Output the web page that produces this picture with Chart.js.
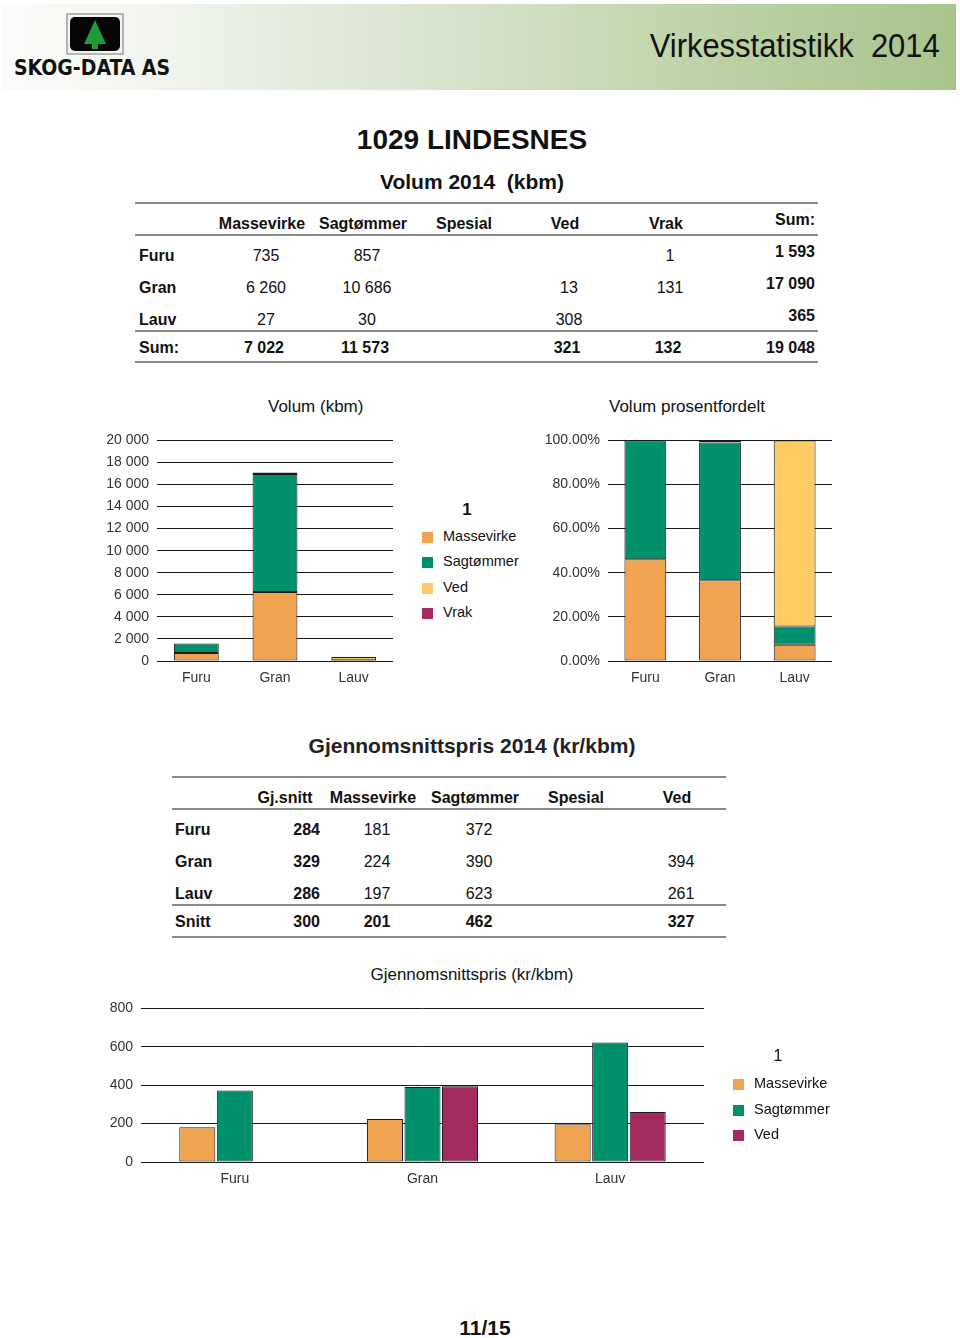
<!DOCTYPE html>
<html>
<head>
<meta charset="utf-8">
<script src="https://cdn.jsdelivr.net/npm/chart.js@4.4.1/dist/chart.umd.min.js"></script>
<style>
  body { margin: 0; width: 960px; height: 1338px; position: relative; background: #fff;
         font-family: "Liberation Sans", Arial, sans-serif; color: #111; overflow: hidden; }
  .abs { position: absolute; white-space: nowrap; }
  .band { position: absolute; left: 2px; top: 4px; width: 954px; height: 86px;
          background: linear-gradient(to right, #fbfcfa 0%, #f3f6f0 14%, #d9e4cf 45%, #bcd2a6 75%, #a8c48c 100%); }
  .hline { position: absolute; height: 2px; background: #8a8a8a; }
  .legend-sq { position: absolute; width: 11px; height: 11px; }
  canvas { position: absolute; }
</style>
</head>
<body>
<div class="band"></div>
<svg class="abs" style="left:66px;top:13px" width="58" height="42">
  <rect x="1" y="1" width="56" height="40" fill="#f4f4f4" stroke="#777" stroke-width="1"/>
  <rect x="4" y="4" width="50" height="34" rx="5" fill="#060606"/>
  <polygon points="29,7 40,31 18,31" fill="#1d9b3a"/>
  <rect x="26" y="31" width="6" height="5" fill="#1d9b3a"/>
</svg>
<div class="abs" style="left:14px;top:56px;font:bold 21px 'DejaVu Sans Condensed','Liberation Sans',Arial;color:#111">SKOG-DATA AS</div>
<div class="abs" style="right:20px;top:26px;font:34px 'Liberation Sans',Arial;color:#111;transform:scaleX(0.91);transform-origin:right center">Virkesstatistikk&nbsp; 2014</div>

<div class="abs" style="left:0;width:944px;text-align:center;top:124px;font:bold 28px 'Liberation Sans',Arial">1029 LINDESNES</div>
<div class="abs" style="left:0;width:944px;text-align:center;top:170px;font:bold 21px 'Liberation Sans',Arial">Volum 2014&nbsp; (kbm)</div>

<div id="tables"></div>

<div class="abs" style="left:268px;top:397px;font:17px 'Liberation Sans',Arial;color:#111">Volum (kbm)</div>
<div class="abs" style="left:609px;top:397px;font:17px 'Liberation Sans',Arial;color:#111">Volum prosentfordelt</div>
<canvas id="c1" width="300" height="267" style="left:100px;top:424px"></canvas>
<canvas id="c2" width="300" height="267" style="left:540px;top:424px"></canvas>
<div id="legend1"></div>

<div class="abs" style="left:0;width:944px;text-align:center;top:734px;font:bold 21px 'Liberation Sans',Arial;color:#222">Gjennomsnittspris 2014 (kr/kbm)</div>
<div class="abs" style="left:0;width:944px;text-align:center;top:965px;font:17px 'Liberation Sans',Arial;color:#111">Gjennomsnittspris (kr/kbm)</div>
<canvas id="c3" width="610" height="200" style="left:100px;top:992px"></canvas>
<div id="legend3"></div>

<div class="abs" style="left:0;width:970px;text-align:center;top:1316px;font:bold 21px 'Liberation Sans',Arial">11/15</div>

<script>
// ---- data ----
const species = ['Furu', 'Gran', 'Lauv'];
const volHeaders = ['Massevirke', 'Sagtømmer', 'Spesial', 'Ved', 'Vrak'];
const volMassevirke = [735, 6260, 27];
const volSagtommer = [857, 10686, 30];
const volSpesial = [null, null, null];
const volVed = [null, 13, 308];
const volVrak = [1, 131, null];
const volRowSum = [1593, 17090, 365];
const volColSum = [7022, 11573, null, 321, 132];
const volTotal = 19048;

// percentage split per species
const pctMassevirke = [46.1, 36.6, 7.4];
const pctSagtommer = [53.8, 62.5, 8.2];
const pctVed = [0, 0.1, 84.4];
const pctVrak = [0.1, 0.8, 0];

const priceHeaders = ['Gj.snitt', 'Massevirke', 'Sagtømmer', 'Spesial', 'Ved'];
const priceSnitt = [284, 329, 286];
const priceMassevirke = [181, 224, 197];
const priceSagtommer = [372, 390, 623];
const priceSpesial = [null, null, null];
const priceVed = [null, 394, 261];
const priceColSnitt = [300, 201, 462, null, 327];

const volTicks = [0, 2000, 4000, 6000, 8000, 10000, 12000, 14000, 16000, 18000, 20000];
const pctTicks = [0, 20, 40, 60, 80, 100];
const priceTicks = [0, 200, 400, 600, 800];

const colors = { Massevirke: '#F0A351', 'Sagtømmer': '#00906B', Ved: '#FECB64', Vrak: '#A32B5F' };
// the price chart paints Ved in the purple tone
const priceColors = { Massevirke: '#F0A351', 'Sagtømmer': '#00906B', Ved: '#A32B5F' };

// ---- helpers ----
function fmt(n) {
    if (n === null || n === undefined) return '';
    return String(n).replace(/\B(?=(\d{3})+(?!\d))/g, ' ');
}

function put(parent, text, x, y, align, style) {
    const d = document.createElement('div');
    d.className = 'abs';
    d.textContent = text;
    d.style.top = (y - 10) + 'px';
    d.style.lineHeight = '20px';
    d.style.font = style || "16px 'Liberation Sans', Arial";
    if (align === 'center') { d.style.left = (x - 100) + 'px'; d.style.width = '200px'; d.style.textAlign = 'center'; }
    else if (align === 'right') { d.style.left = (x - 200) + 'px'; d.style.width = '200px'; d.style.textAlign = 'right'; }
    else { d.style.left = x + 'px'; }
    parent.appendChild(d);
    return d;
}

function line(parent, x1, x2, y) {
    const d = document.createElement('div');
    d.className = 'hline';
    d.style.left = x1 + 'px';
    d.style.width = (x2 - x1) + 'px';
    d.style.top = (y - 1) + 'px';
    parent.appendChild(d);
}

const B = "bold 16px 'Liberation Sans', Arial";
const N = "16px 'Liberation Sans', Arial";

// ---- table 1 ----
const tables = document.getElementById('tables');
[203, 235, 331, 362].forEach(y => line(tables, 135, 818, y));
const volCols = [262, 363, 464, 565, 666];
volHeaders.forEach((h, i) => put(tables, h, volCols[i], 225, 'center', B));
put(tables, 'Sum:', 815, 221, 'right', B);
const volRows = [volMassevirke, volSagtommer, volSpesial, volVed, volVrak];
const rowY1 = [257, 289, 321];
species.forEach((s, r) => {
    put(tables, s, 139, rowY1[r], 'left', B);
    volRows.forEach((col, c) => put(tables, fmt(col[r]), volCols[c] + 4, rowY1[r], 'center', N));
    put(tables, fmt(volRowSum[r]), 815, rowY1[r] - 4, 'right', B);
});
put(tables, 'Sum:', 139, 349, 'left', B);
volColSum.forEach((v, c) => put(tables, fmt(v), volCols[c] + 2, 349, 'center', B));
put(tables, fmt(volTotal), 815, 349, 'right', B);

// ---- table 2 ----
[777, 809, 905, 937].forEach(y => line(tables, 172, 726, y));
const priceCols = [285, 373, 475, 576, 677];
priceHeaders.forEach((h, i) => put(tables, h, priceCols[i], 799, 'center', B));
const priceRows = [priceMassevirke, priceSagtommer, priceSpesial, priceVed];
const rowY2 = [831, 863, 895];
species.forEach((s, r) => {
    put(tables, s, 175, rowY2[r], 'left', B);
    put(tables, fmt(priceSnitt[r]), 320, rowY2[r], 'right', B);
    priceRows.forEach((col, c) => put(tables, fmt(col[r]), priceCols[c + 1] + 4, rowY2[r], 'center', N));
});
put(tables, 'Snitt', 175, 923, 'left', B);
put(tables, fmt(priceColSnitt[0]), 320, 923, 'right', B);
priceColSnitt.slice(1).forEach((v, c) => put(tables, fmt(v), priceCols[c + 1] + 4, 923, 'center', B));

// ---- legends ----
function legend(id, x, titleX, titleY, titleFont, firstY, step, names, palette) {
    const el = document.getElementById(id);
    put(el, '1', titleX, titleY, 'center', titleFont);
    names.forEach((n, i) => {
        const sq = document.createElement('div');
        sq.className = 'legend-sq';
        sq.style.left = x + 'px';
        sq.style.top = (firstY + i * step - 6) + 'px';
        sq.style.background = palette[n];
        el.appendChild(sq);
        put(el, n, x + 21, firstY + i * step, 'left', "14.5px 'Liberation Sans', Arial");
    });
}
legend('legend1', 422, 467, 510, "bold 17px 'Liberation Sans', Arial", 538, 25.3,
       ['Massevirke', 'Sagtømmer', 'Ved', 'Vrak'], colors);
legend('legend3', 733, 778, 1057, "16px 'Liberation Sans', Arial", 1085, 25.5,
       ['Massevirke', 'Sagtømmer', 'Ved'], priceColors);

// ---- charts ----
Chart.defaults.font.family = "'Liberation Sans', Arial, sans-serif";
Chart.defaults.font.size = 14;
Chart.defaults.color = '#333';
Chart.defaults.animation = false;

function ds(label, data, palette, extra) {
    return Object.assign({ label, data, backgroundColor: palette[label], borderColor: '#1a1a1a', borderWidth: 1, borderSkipped: false }, extra || {});
}

function baseOptions(yWidth, yPad, ticks, tickFmt, stacked, rightPad) {
    return {
        responsive: false,
        layout: { padding: { top: 10, right: rightPad, left: 0, bottom: 0 } },
        plugins: { legend: { display: false }, tooltip: { enabled: false } },
        scales: {
            x: {
                stacked,
                grid: { display: false },
                border: { display: false },
                ticks: { padding: 1, color: '#333' },
                afterFit: s => { s.height = 30; }
            },
            y: {
                stacked,
                min: ticks[0], max: ticks[ticks.length - 1],
                afterBuildTicks: s => { s.ticks = ticks.map(v => ({ value: v })); },
                grid: { color: '#1a1a1a', lineWidth: 1, drawTicks: false },
                border: { display: false },
                ticks: { padding: yPad, color: '#333', callback: tickFmt },
                afterFit: s => { s.width = yWidth; }
            }
        }
    };
}

new Chart(document.getElementById('c1'), {
    type: 'bar',
    data: {
        labels: species,
        datasets: [
            ds('Massevirke', volMassevirke, colors),
            ds('Sagtømmer', volSagtommer, colors),
            ds('Ved', volVed, colors),
            ds('Vrak', volVrak, colors)
        ].map(d => Object.assign(d, { barPercentage: 0.57, categoryPercentage: 1 }))
    },
    options: baseOptions(57, 8, volTicks, v => fmt(v), true, 7)
});

new Chart(document.getElementById('c2'), {
    type: 'bar',
    data: {
        labels: species,
        datasets: [
            ds('Massevirke', pctMassevirke, colors),
            ds('Sagtømmer', pctSagtommer, colors),
            ds('Ved', pctVed, colors),
            ds('Vrak', pctVrak, colors)
        ].map(d => Object.assign(d, { barPercentage: 0.56, categoryPercentage: 1 }))
    },
    options: baseOptions(68, 8, pctTicks, v => v.toFixed(2) + '%', true, 8)
});

new Chart(document.getElementById('c3'), {
    type: 'bar',
    data: {
        labels: species,
        datasets: [
            ds('Massevirke', priceMassevirke, priceColors),
            ds('Sagtømmer', priceSagtommer, priceColors),
            ds('Ved', priceVed, priceColors)
        ].map(d => Object.assign(d, { barPercentage: 0.96, categoryPercentage: 0.6 }))
    },
    options: baseOptions(41, 8, priceTicks, v => v, false, 6)
});
</script>
</body>
</html>
